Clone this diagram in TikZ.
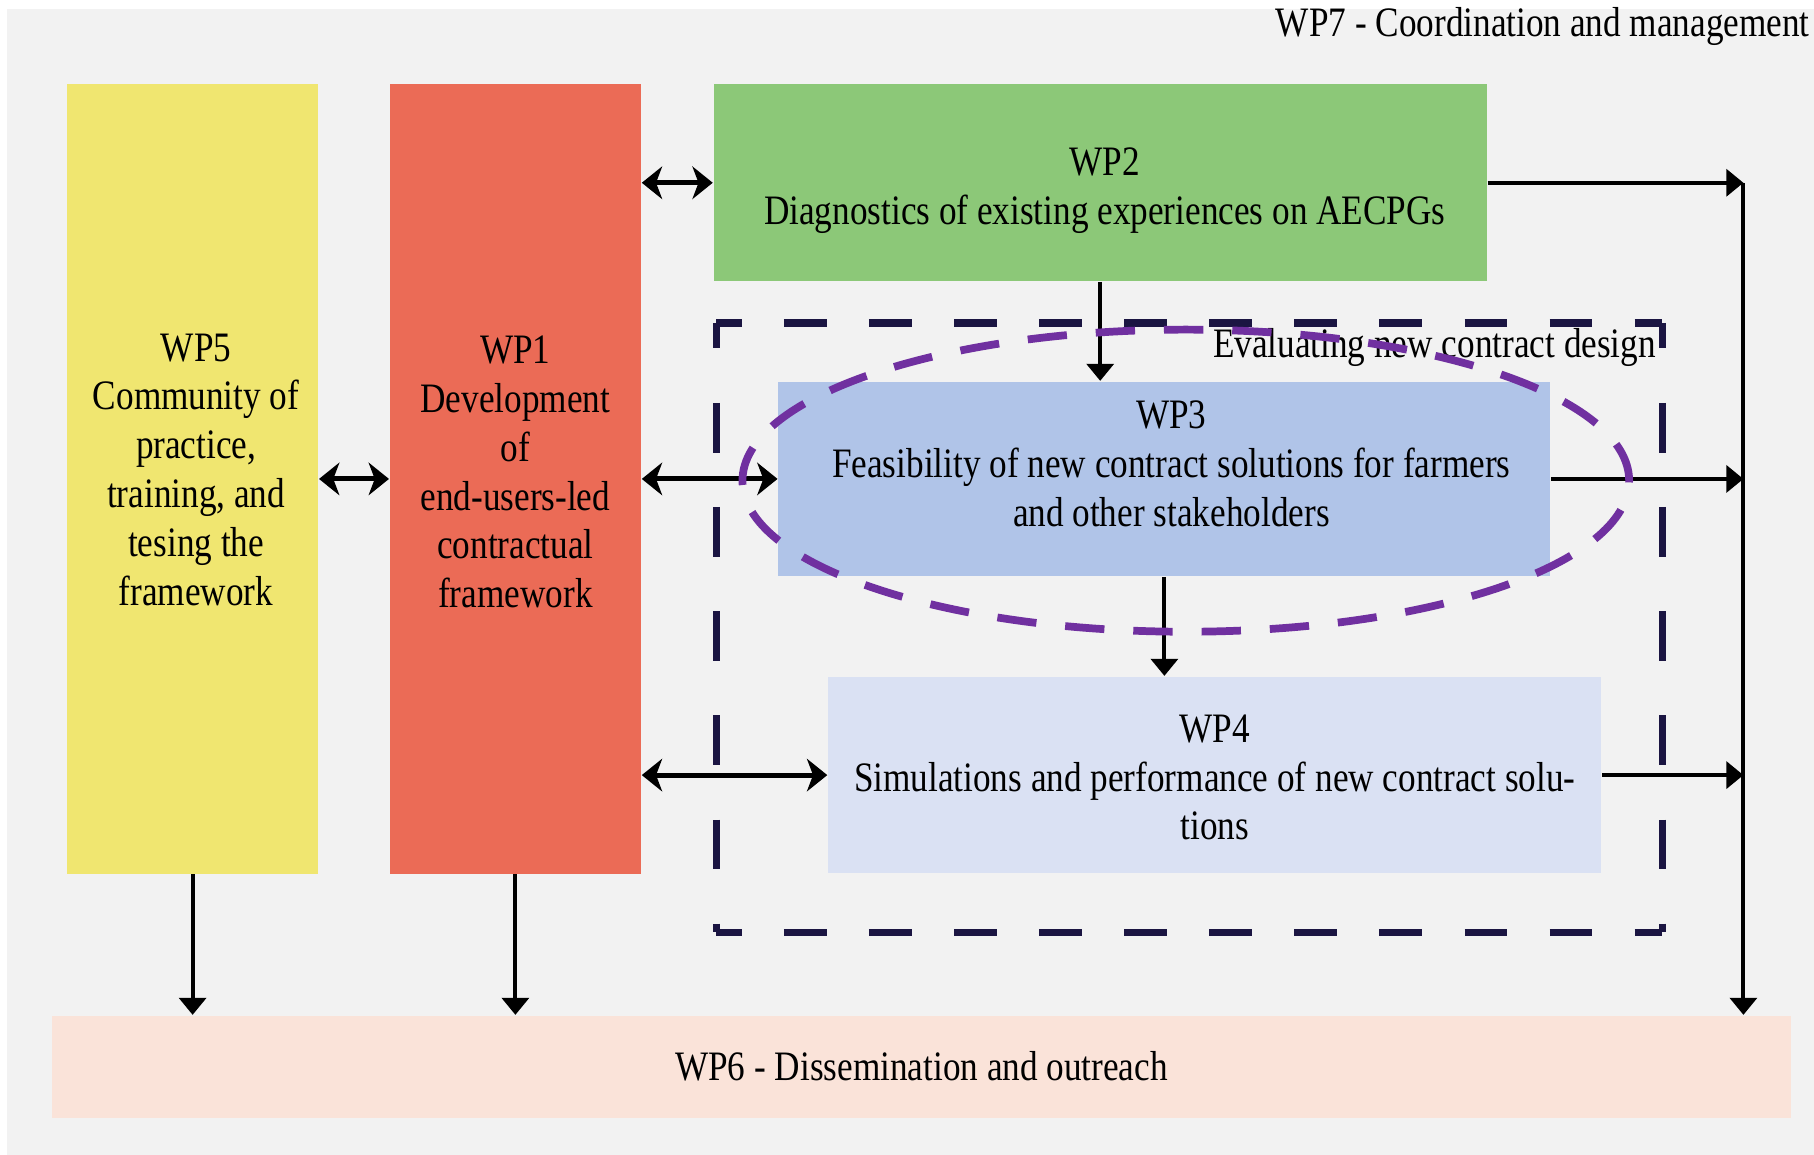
\documentclass[tikz,border=0pt]{standalone}
\usepackage{fontspec}
\setmainfont{Liberation Serif}[FakeStretch=0.84]
\usetikzlibrary{arrows.meta, calc, shapes.geometric}

\definecolor{bggray}{RGB}{242,242,242}
\definecolor{wpyellow}{RGB}{240,230,112}
\definecolor{wpred}{RGB}{235,107,86}
\definecolor{wpgreen}{RGB}{140,200,120}
\definecolor{wpblue}{RGB}{176,196,232}
\definecolor{wplightblue}{RGB}{218,225,243}
\definecolor{wppeach}{RGB}{250,227,217}
\definecolor{evalnavy}{RGB}{27,21,66}
\definecolor{ringpurple}{RGB}{112,48,160}

\begin{document}
\begin{tikzpicture}[
    x=0.01cm, y=-0.01cm, % one unit = one pixel of the layout, y pointing down
    wpbox/.style={inner sep=0pt}, % coloured work package block
    wp/.style={align=center, inner sep=0pt, font=\fontsize{10.3}{12}\selectfont}, % text in a block
    flow/.style={-{Triangle[length=4.2pt, width=6.6pt]}, line width=1pt}, % one-way arrow
    link/.style={{Stealth[length=5pt, width=8pt, inset=1.5pt]}-{Stealth[length=5pt, width=8pt, inset=1.5pt]}, line width=1.2pt}, % two-way arrow
    evalh/.style={draw=evalnavy, line width=1.8pt, dash pattern=on 0.37cm off 0.365cm, dash phase=0.15cm}, % dashed frame, top and bottom
    evalv/.style={draw=evalnavy, line width=1.8pt, dash pattern=on 0.43cm off 0.47cm, dash phase=0.21cm}, % dashed frame, sides
    focusring/.style={draw=ringpurple, ellipse, line width=1.9pt, dash pattern=on 0.34cm off 0.25cm}, % ellipse round WP3
    plain/.style={inner sep=0pt, font=\fontsize{10.3}{12}\selectfont} % free text
  ]

  % --- Background ---
  \useasboundingbox (0,0) rectangle (1568,998);
  \fill[white] (0,0) rectangle (1568,998);
  \fill[bggray] (6,8) rectangle (1568,998);

  % --- Title ---
  \node[plain, anchor=east] (wp7) at (1565,23) {WP7 - Coordination and management};

  % --- Work packages ---
  \node[wpbox, fill=wpyellow, minimum width=2.17cm, minimum height=6.82cm] (wp5) at (166.5,414) {};
  \node[wp] (wp5text) at ($(wp5)+(3,-8)$)
    {WP5\\Community of\\practice,\\training, and\\tesing the\\framework};

  \node[wpbox, fill=wpred, minimum width=2.17cm, minimum height=6.82cm] (wp1) at (445.5,414) {};
  \node[wp] (wp1text) at ($(wp1)+(0,-6)$)
    {WP1\\Development\\of\\end-users-led\\contractual\\framework};

  \node[wpbox, fill=wpgreen, minimum width=6.68cm, minimum height=1.70cm] (wp2) at (951,158) {};
  \node[wp] (wp2text) at ($(wp2)+(4,7)$)
    {WP2\\Diagnostics of existing experiences on AECPGs};

  % dashed frame round WP3 and WP4
  \node[minimum width=8.16cm, minimum height=5.25cm, inner sep=0pt] (eval) at (1028,542.5) {};
  \draw[evalh] (eval.north west) -- (eval.north east);
  \draw[evalh] (eval.south west) -- (eval.south east);
  \draw[evalv] (eval.north west) -- (eval.south west);
  \draw[evalv] (eval.north east) -- (eval.south east);
  \node[plain, anchor=east] (evaltitle) at (1432,300) {Evaluating new contract design};

  \node[wpbox, fill=wpblue, minimum width=6.67cm, minimum height=1.68cm] (wp3) at (1006.5,414) {};
  \node[wp] (wp3text) at ($(wp3)+(6,-13)$)
    {WP3\\Feasibility of new contract solutions for farmers\\and other stakeholders};

  \node[wpbox, fill=wplightblue, minimum width=6.68cm, minimum height=1.70cm] (wp4) at (1050,670) {};
  \node[wp] (wp4text) at ($(wp4)+(0,2)$)
    {WP4\\Simulations and performance of new contract solu-\\tions};

  \node[wpbox, fill=wppeach, minimum width=15.03cm, minimum height=0.88cm] (wp6) at (796.5,922) {};
  \node[wp] (wp6text) at (wp6) {WP6 - Dissemination and outreach};

  % --- Two-way links with WP1 ---
  \draw[link] (wp5.east) -- (wp1.west);
  \draw[link] (wp2.west -| wp1.east) -- (wp2.west);
  \draw[link] (wp1.east) -- (wp3.west);
  \draw[link] (wp4.west -| wp1.east) -- (wp4.west);

  % --- Flow down the chain ---
  \draw[flow] (wp2.south) -- (wp3.north -| wp2.south);
  \draw[flow] (wp3.south) -- (wp4.north -| wp3.south);

  % --- Output bus on the right ---
  \coordinate (bus) at (1507,158);
  \draw[flow] (wp2.east) -- (wp2.east -| bus);
  \draw[flow] (wp3.east) -- (wp3.east -| bus);
  \draw[flow] (wp4.east) -- (wp4.east -| bus);
  \draw[flow] (bus) -- (bus |- wp6.north);

  % --- Into dissemination ---
  \draw[flow] (wp5.south) -- (wp5.south |- wp6.north);
  \draw[flow] (wp1.south) -- (wp1.south |- wp6.north);

  % --- Highlight on WP3 ---
  \node[focusring, minimum width=7.66cm, minimum height=2.61cm] (wp3ring) at (1025,415.5) {};

\end{tikzpicture}
\end{document}
